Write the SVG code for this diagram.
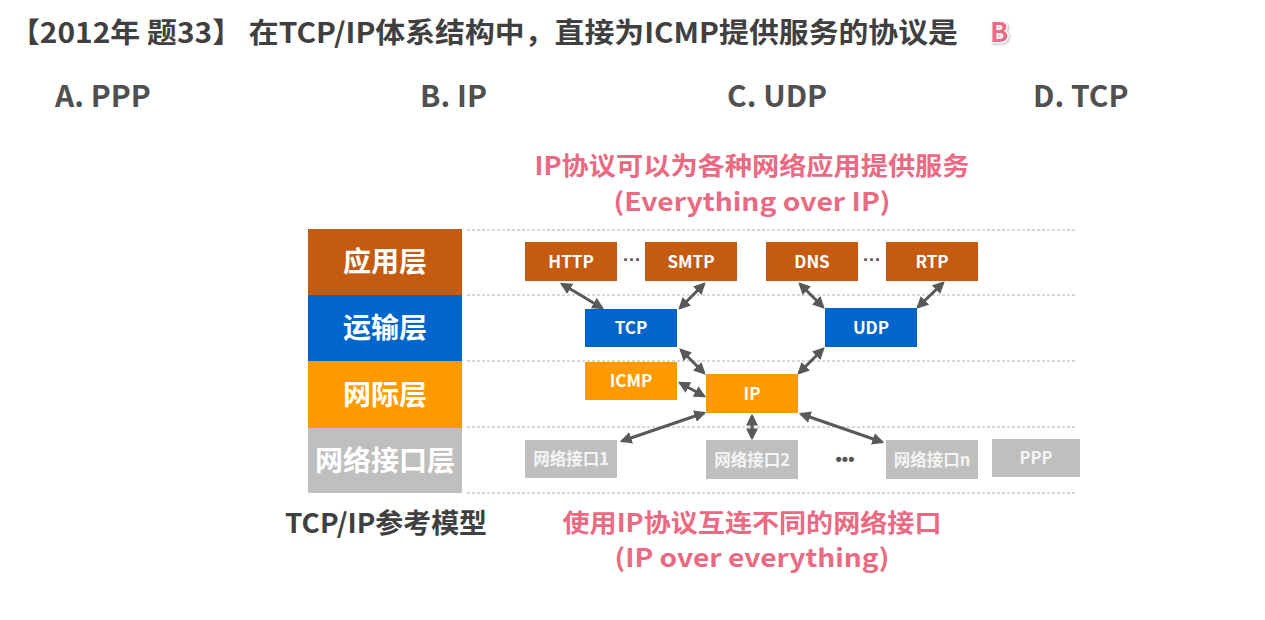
<svg xmlns="http://www.w3.org/2000/svg" width="1265" height="620" viewBox="0 0 1265 620">
<style>
text{font-family:"Noto Sans CJK SC","Noto Sans",sans-serif;font-weight:bold}
.title{font-size:28px;fill:#404040}
.opt{font-size:30px;fill:#505050}
.pink{font-size:25px;fill:#E96A82;text-anchor:middle}
.layer{font-size:28px;fill:#fff;text-anchor:middle}
.lbl{font-size:17px;fill:#fff;text-anchor:middle}
.ifl{font-size:16.5px;fill:#f4f4f4;text-anchor:middle}
.dots{font-family:"Liberation Sans",sans-serif;font-size:18px;fill:#555;text-anchor:middle}
.dash{stroke:#b0b0b0;stroke-width:1;stroke-dasharray:3 2;fill:none}
.app{fill:#C55A11}
.tr{fill:#0066CC}
.net{fill:#FF9900}
.if{fill:#BFBFBF}
.arr{stroke:#595959;stroke-width:3;fill:none;marker-start:url(#ah);marker-end:url(#ah)}
</style>
<defs>
<marker id="ah" viewBox="0 0 10 10" refX="8" refY="5" markerWidth="4" markerHeight="4" orient="auto-start-reverse" markerUnits="strokeWidth">
<path d="M0,0 L10,5 L0,10 z" fill="#595959"/>
</marker>
</defs>
<rect width="1265" height="620" fill="#fff"/>
<g id="question">
<text class="title" x="10" y="43" textLength="948" lengthAdjust="spacingAndGlyphs">【2012年 题33】 在TCP/IP体系结构中，直接为ICMP提供服务的协议是</text>
<text x="990" y="42" style="font-size:27px;fill:#E96A82;stroke:#fff;stroke-width:3;paint-order:stroke;filter:drop-shadow(1px 1px 1px #bbb)">B</text>
<text class="opt" x="55" y="107">A. PPP</text>
<text class="opt" x="420" y="107">B. IP</text>
<text class="opt" x="727" y="107">C. UDP</text>
<text class="opt" x="1033" y="107">D. TCP</text>
</g>
<g id="notes">
<text class="pink" x="752" y="175" textLength="435" lengthAdjust="spacingAndGlyphs">IP协议可以为各种网络应用提供服务</text>
<text class="pink" x="752" y="211" textLength="277" lengthAdjust="spacingAndGlyphs">(Everything over IP)</text>
<text class="pink" x="752" y="532" textLength="379" lengthAdjust="spacingAndGlyphs">使用IP协议互连不同的网络接口</text>
<text class="pink" x="752" y="567" textLength="275" lengthAdjust="spacingAndGlyphs">(IP over everything)</text>
<text x="285" y="533" style="font-size:27px;fill:#404040" textLength="202" lengthAdjust="spacingAndGlyphs">TCP/IP参考模型</text>
</g>
<g id="dashlines">
<line class="dash" x1="467" y1="230" x2="1075" y2="230"/>
<line class="dash" x1="467" y1="295" x2="1075" y2="295"/>
<line class="dash" x1="467" y1="361" x2="1075" y2="361"/>
<line class="dash" x1="467" y1="427" x2="1075" y2="427"/>
<line class="dash" x1="467" y1="493" x2="1075" y2="493"/>
</g>
<g id="layers">
<g id="layer-app"><rect class="app" x="308" y="229" width="154" height="66"/><text class="layer" x="385" y="272">应用层</text></g>
<g id="layer-transport"><rect class="tr" x="308" y="295" width="154" height="66"/><text class="layer" x="385" y="338">运输层</text></g>
<g id="layer-internet"><rect class="net" x="308" y="361" width="154" height="67"/><text class="layer" x="385" y="405">网际层</text></g>
<g id="layer-link"><rect class="if" x="308" y="428" width="154" height="65"/><text class="layer" x="385" y="471">网络接口层</text></g>
</g>
<g id="connectors">
<line class="arr" x1="562" y1="284" x2="602" y2="308"/>
<line class="arr" x1="704" y1="284" x2="680" y2="308"/>
<line class="arr" x1="800" y1="284" x2="823" y2="307"/>
<line class="arr" x1="943" y1="283" x2="918" y2="307"/>
<line class="arr" x1="681" y1="350" x2="704" y2="373"/>
<line class="arr" x1="823" y1="349" x2="799" y2="373"/>
<line class="arr" x1="680" y1="383" x2="704" y2="396"/>
<line class="arr" x1="622" y1="441" x2="704" y2="413"/>
<line class="arr" x1="752" y1="416" x2="752" y2="438"/>
<line class="arr" x1="801" y1="414" x2="882" y2="442"/>
</g>
<g id="http"><rect class="app" x="525" y="242" width="92" height="39"/><text class="lbl" x="571" y="268">HTTP</text></g>
<text class="dots" x="632" y="266">···</text>
<g id="smtp"><rect class="app" x="645" y="242" width="92" height="39"/><text class="lbl" x="691" y="268">SMTP</text></g>
<g id="dns"><rect class="app" x="766" y="242" width="92" height="39"/><text class="lbl" x="812" y="268">DNS</text></g>
<text class="dots" x="872" y="266">···</text>
<g id="rtp"><rect class="app" x="886" y="242" width="92" height="39"/><text class="lbl" x="932" y="268">RTP</text></g>
<g id="tcp"><rect class="tr" x="585" y="309" width="92" height="38"/><text class="lbl" x="631" y="334">TCP</text></g>
<g id="udp"><rect class="tr" x="825" y="308" width="92" height="39"/><text class="lbl" x="871" y="334">UDP</text></g>
<g id="icmp"><rect class="net" x="585" y="362" width="92" height="38"/><text class="lbl" x="631" y="387">ICMP</text></g>
<g id="ip"><rect class="net" x="706" y="374" width="92" height="39"/><text class="lbl" x="752" y="400">IP</text></g>
<g id="if1"><rect class="if" x="525" y="440" width="92" height="38"/><text class="ifl" x="571" y="465">网络接口1</text></g>
<g id="if2"><rect class="if" x="706" y="440" width="92" height="39"/><text class="ifl" x="752" y="466">网络接口2</text></g>
<text class="dots" x="845" y="465">•••</text>
<g id="ifn"><rect class="if" x="886" y="440" width="92" height="39"/><text class="ifl" x="932" y="466">网络接口n</text></g>
<g id="ppp"><rect class="if" x="992" y="439" width="88" height="38"/><text class="ifl" x="1036" y="464">PPP</text></g>
</svg>
